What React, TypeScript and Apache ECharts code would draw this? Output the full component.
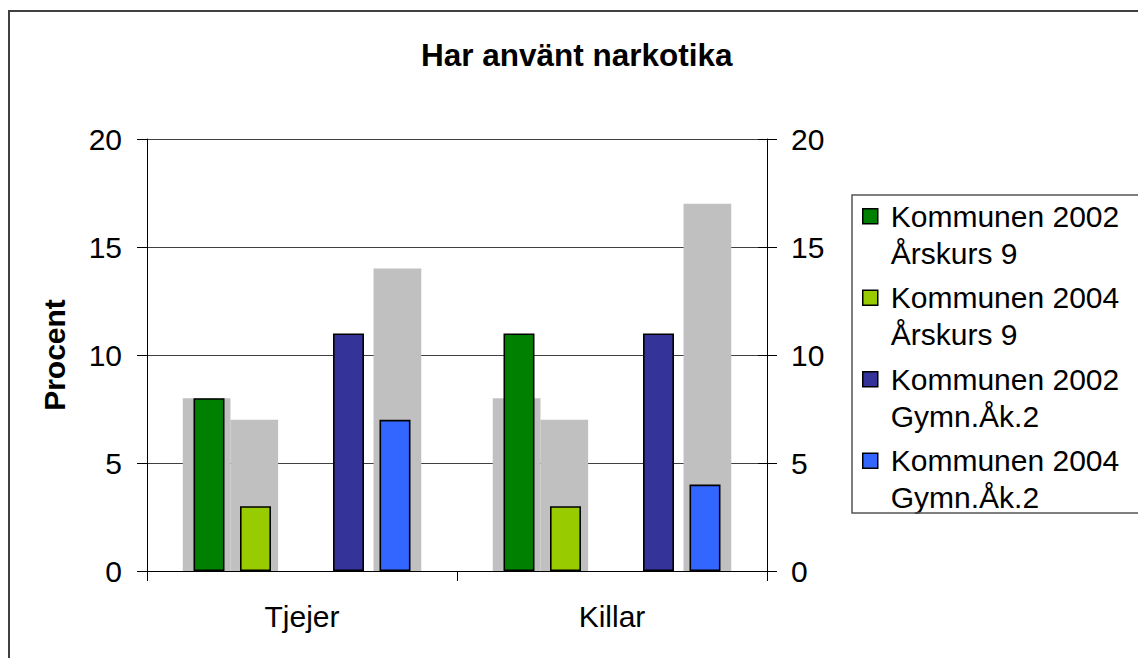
import React, { useEffect, useRef } from "react";
import * as echarts from "echarts";

const categories = ["Tjejer", "Killar"];
const title = "Har använt narkotika";
const yAxisName = "Procent";

const seriesNames = [
  "Kommunen 2002\nÅrskurs 9",
  "Kommunen 2004\nÅrskurs 9",
  "Kommunen 2002\nGymn.Åk.2",
  "Kommunen 2004\nGymn.Åk.2",
];
const seriesColors = ["#008000", "#99CC00", "#333399", "#3366FF"];

const kommun2002Ak9 = [8, 11];
const kommun2004Ak9 = [3, 3];
const kommun2002Gy2 = [11, 11];
const kommun2004Gy2 = [7, 4];

// grey comparison bars on the secondary axis (one slot per coloured slot)
const greyAk9_2002 = [8, 8];
const greyAk9_2004 = [7, 7];
const greyGy2_2002: (number | null)[] = [null, null];
const greyGy2_2004 = [14, 17];

const yMin = 0;
const yMax = 20;
const yInterval = 5;

const FONT = "'Liberation Sans', Arial, sans-serif";

// legend marker: 15x15 square placed at the first text line of a 74px-high item
const LEGEND_ICON = "path://M0,0M0,11L15,11L15,26L0,26ZM15,74";

export default function App() {
  const ref = useRef<HTMLDivElement>(null);

  useEffect(() => {
    if (!ref.current) return;
    const chart = echarts.init(ref.current, undefined, { renderer: "svg" });

    const colouredData = [kommun2002Ak9, kommun2004Ak9, null, kommun2002Gy2, kommun2004Gy2];
    const greyData = [greyAk9_2002, greyAk9_2004, [null, null], greyGy2_2002, greyGy2_2004];

    const greySeries = greyData.map((d, i) => ({
      type: "bar",
      name: "grey" + i,
      xAxisIndex: 1,
      yAxisIndex: 1,
      data: d,
      barWidth: 47.7,
      barGap: "0%",
      itemStyle: { color: "#C0C0C0" },
      emphasis: { disabled: true },
      silent: true,
    }));

    let ci = 0;
    const colouredSeries = colouredData.map((d) => {
      if (d === null) {
        return {
          type: "bar",
          name: "spacer",
          xAxisIndex: 0,
          yAxisIndex: 0,
          data: [null, null],
          barWidth: 31,
          barGap: "50%",
          silent: true,
        };
      }
      const k = ci++;
      return {
        type: "bar",
        name: seriesNames[k],
        xAxisIndex: 0,
        yAxisIndex: 0,
        data: d,
        barWidth: 31,
        barGap: "50%",
        itemStyle: { color: seriesColors[k], borderColor: "#000", borderWidth: 1.6 },
        emphasis: { disabled: true },
        silent: true,
      };
    });

    const valueAxisBase = {
      type: "value",
      min: yMin,
      max: yMax,
      interval: yInterval,
    };

    chart.setOption({
      animation: false,
      title: {
        text: title,
        left: 416,
        top: 34,
        textStyle: { fontFamily: FONT, fontSize: 31.5, fontWeight: "bold", color: "#000" },
      },
      legend: {
        data: seriesNames,
        orient: "vertical",
        left: 862,
        top: 197,
        padding: 0,
        itemGap: 6,
        itemWidth: 15,
        itemHeight: 74,
        icon: LEGEND_ICON,
        selectedMode: false,
        itemStyle: { borderColor: "#000", borderWidth: 1.5 },
        textStyle: {
          fontFamily: FONT,
          fontSize: 30,
          lineHeight: 37,
          color: "#000",
          padding: [0, 0, 0, 8],
        },
      },
      graphic: [
        {
          type: "rect",
          shape: { x: 9, y: 11, width: 1300, height: 800 },
          style: { fill: "none", stroke: "#404040", lineWidth: 2 },
          silent: true,
          z: 100,
        },
        {
          type: "rect",
          shape: { x: 852, y: 195, width: 400, height: 318 },
          style: { fill: "none", stroke: "#555", lineWidth: 1.5 },
          silent: true,
          z: 100,
        },
      ],
      grid: { left: 147, right: 371, top: 139, bottom: 87, containLabel: false },
      xAxis: [
        {
          type: "category",
          data: categories,
          axisLine: { show: true, lineStyle: { color: "#000", width: 1 } },
          axisTick: { show: true, length: 10, lineStyle: { color: "#000" } },
          axisLabel: { fontFamily: FONT, fontSize: 30, color: "#000", margin: 30 },
          splitLine: { show: false },
        },
        {
          type: "category",
          data: categories,
          show: false,
        },
      ],
      yAxis: [
        {
          ...valueAxisBase,
          position: "left",
          name: yAxisName,
          nameLocation: "middle",
          nameGap: 78,
          nameTextStyle: { fontFamily: FONT, fontSize: 30, fontWeight: "bold", color: "#000" },
          axisLine: { show: true, lineStyle: { color: "#000", width: 1 } },
          axisTick: { show: true, length: 10, lineStyle: { color: "#000" } },
          axisLabel: { fontFamily: FONT, fontSize: 30, color: "#000", margin: 25 },
          splitLine: { show: true, lineStyle: { color: "#404040", width: 1.2 } },
        },
        {
          ...valueAxisBase,
          position: "right",
          axisLine: { show: true, lineStyle: { color: "#000", width: 1 } },
          axisTick: { show: true, length: 10, lineStyle: { color: "#000" } },
          axisLabel: { fontFamily: FONT, fontSize: 30, color: "#000", margin: 24 },
          splitLine: { show: false },
        },
        {
          ...valueAxisBase,
          position: "right",
          axisLine: { show: false },
          axisTick: { show: true, inside: true, length: 9, lineStyle: { color: "#000" } },
          axisLabel: { show: false },
          splitLine: { show: false },
        },
      ],
      series: [...greySeries, ...colouredSeries],
    });

    return () => chart.dispose();
  }, []);

  return (
    <div
      ref={ref}
      style={{ position: "absolute", left: 0, top: 0, width: 1138, height: 658, background: "#fff" }}
    />
  );
}
